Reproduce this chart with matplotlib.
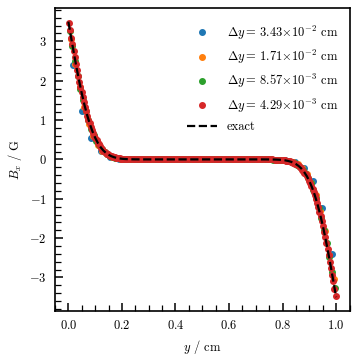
import numpy as np
import matplotlib
matplotlib.use("Agg")
import matplotlib.pyplot as plt

plt.rcParams['font.family'] = 'serif'
plt.rcParams['font.serif'] = ['cmr10', 'DejaVu Serif']
plt.rcParams['mathtext.fontset'] = 'cm'
plt.rcParams['axes.formatter.use_mathtext'] = True

# dy = 3.43e-2 cm
blue_y = [0.017, 0.0515, 0.086, 0.1205, 0.155, 0.1895, 0.224, 0.2585, 0.293, 0.3275,
          0.362, 0.3965, 0.431, 0.4655, 0.500, 0.5345, 0.569, 0.6035, 0.638, 0.6725,
          0.707, 0.7415, 0.776, 0.8105, 0.845, 0.8795, 0.914, 0.9485, 0.983]
blue_b = [2.39, 1.23, 0.545, 0.205, 0.065, 0.017, 0.004, 0.001, 0.0, 0.0,
          0.0, 0.0, 0.0, 0.0, 0.0, 0.0, 0.0, 0.0, 0.0, 0.0,
          0.0, -0.001, -0.004, -0.017, -0.075, -0.22, -0.55, -1.24, -2.40]

# dy = 1.71e-2 cm
orange_y = [0.0085, 0.0255, 0.0424, 0.0594, 0.0763, 0.0933, 0.1102, 0.1272, 0.1441, 0.1611,
            0.1780, 0.1950, 0.2119, 0.2289, 0.2458, 0.2628, 0.2797, 0.2967, 0.3136, 0.3306,
            0.3475, 0.3645, 0.3814, 0.3984, 0.4153, 0.4323, 0.4492, 0.4662, 0.4831, 0.5000,
            0.5170, 0.5339, 0.5509, 0.5678, 0.5848, 0.6017, 0.6187, 0.6356, 0.6526, 0.6695,
            0.6865, 0.7034, 0.7204, 0.7373, 0.7542, 0.7712, 0.7881, 0.8051, 0.8220, 0.8390,
            0.8559, 0.8729, 0.8898, 0.9068, 0.9237, 0.9407, 0.9576, 0.9746, 0.9915]
orange_b = [3.05, 2.43, 1.83, 1.32, 0.91, 0.60, 0.37, 0.22, 0.125, 0.068,
            0.035, 0.016, 0.007, 0.003, 0.001, 0.0, 0.0, 0.0, 0.0, 0.0,
            0.0, 0.0, 0.0, 0.0, 0.0, 0.0, 0.0, 0.0, 0.0, 0.0,
            0.0, 0.0, 0.0, 0.0, 0.0, 0.0, 0.0, 0.0, 0.0, 0.0,
            0.0, 0.0, 0.0, 0.0, -0.001, -0.003, -0.007, -0.016, -0.035, -0.068,
            -0.125, -0.22, -0.37, -0.60, -0.91, -1.32, -1.83, -2.43, -3.05]

# dy = 8.57e-3 cm
green_y = [0.005, 0.015, 0.025, 0.035, 0.045, 0.055, 0.065, 0.075, 0.085, 0.095,
           0.105, 0.115, 0.125, 0.135, 0.145, 0.155, 0.165, 0.175, 0.185, 0.195,
           0.205, 0.215, 0.225, 0.235, 0.245, 0.255, 0.265, 0.275, 0.285, 0.295,
           0.305, 0.315, 0.325, 0.335, 0.345, 0.355, 0.365, 0.375, 0.385, 0.395,
           0.405, 0.415, 0.425, 0.435, 0.445, 0.455, 0.465, 0.475, 0.485, 0.495,
           0.505, 0.515, 0.525, 0.535, 0.545, 0.555, 0.565, 0.575, 0.585, 0.595,
           0.605, 0.615, 0.625, 0.635, 0.645, 0.655, 0.665, 0.675, 0.685, 0.695,
           0.705, 0.715, 0.725, 0.735, 0.745, 0.755, 0.765, 0.775, 0.785, 0.795,
           0.805, 0.815, 0.825, 0.835, 0.845, 0.855, 0.865, 0.875, 0.885, 0.895,
           0.905, 0.915, 0.925, 0.935, 0.945, 0.955, 0.965, 0.975, 0.985, 0.995]
green_b = [3.26, 2.87, 2.49, 2.13, 1.80, 1.50, 1.23, 0.99, 0.785, 0.61,
           0.47, 0.355, 0.262, 0.19, 0.136, 0.095, 0.066, 0.045, 0.030, 0.019,
           0.012, 0.008, 0.005, 0.003, 0.002, 0.001, 0.0, 0.0, 0.0, 0.0,
           0.0, 0.0, 0.0, 0.0, 0.0, 0.0, 0.0, 0.0, 0.0, 0.0,
           0.0, 0.0, 0.0, 0.0, 0.0, 0.0, 0.0, 0.0, 0.0, 0.0,
           0.0, 0.0, 0.0, 0.0, 0.0, 0.0, 0.0, 0.0, 0.0, 0.0,
           0.0, 0.0, 0.0, 0.0, 0.0, 0.0, 0.0, 0.0, 0.0, 0.0,
           0.0, 0.0, 0.0, 0.0, -0.001, -0.002, -0.003, -0.005, -0.008, -0.012,
           -0.019, -0.030, -0.045, -0.066, -0.095, -0.136, -0.19, -0.262, -0.355, -0.47,
           -0.61, -0.785, -0.99, -1.23, -1.50, -1.80, -2.13, -2.49, -2.87, -3.26]

# dy = 4.29e-3 cm (dense near the walls, band in the flat middle)
red_y = [0.0020, 0.0063, 0.0106, 0.0149, 0.0192, 0.0235, 0.0278, 0.0321, 0.0364, 0.0407,
         0.0450, 0.0493, 0.0536, 0.0579, 0.0622, 0.0665, 0.0708, 0.0751, 0.0794, 0.0837,
         0.0880, 0.0923, 0.0966, 0.1009, 0.1052, 0.1095, 0.1138, 0.1181, 0.1224, 0.1267,
         0.1310, 0.1353, 0.1396, 0.1439, 0.1482, 0.1525, 0.1568, 0.1611, 0.1654, 0.1697,
         0.1740, 0.1783, 0.1826, 0.1869, 0.1912, 0.1955, 0.1998,
         0.21, 0.22, 0.23, 0.24, 0.25,
         0.26, 0.27, 0.28, 0.29, 0.30, 0.31, 0.32, 0.33, 0.34, 0.35,
         0.36, 0.37, 0.38, 0.39, 0.40, 0.41, 0.42, 0.43, 0.44, 0.45,
         0.46, 0.47, 0.48, 0.49, 0.50, 0.51, 0.52, 0.53, 0.54, 0.55,
         0.56, 0.57, 0.58, 0.59, 0.60, 0.61, 0.62, 0.63, 0.64, 0.65,
         0.66, 0.67, 0.68, 0.69, 0.70, 0.71, 0.72, 0.73, 0.74,
         0.75, 0.76, 0.77, 0.78, 0.79,
         0.8002, 0.8045, 0.8088, 0.8131, 0.8174, 0.8217, 0.8260, 0.8303, 0.8346, 0.8389,
         0.8432, 0.8475, 0.8518, 0.8561, 0.8604, 0.8647, 0.8690, 0.8733, 0.8776, 0.8819,
         0.8862, 0.8905, 0.8948, 0.8991, 0.9034, 0.9077, 0.9120, 0.9163, 0.9206, 0.9249,
         0.9292, 0.9335, 0.9378, 0.9421, 0.9464, 0.9507, 0.9550, 0.9593, 0.9636, 0.9679,
         0.9722, 0.9765, 0.9808, 0.9851, 0.9894, 0.9937, 0.9980]
red_b = [3.47, 3.28, 3.095, 2.925, 2.757, 2.594, 2.434, 2.278, 2.127, 1.978,
         1.840, 1.701, 1.573, 1.447, 1.329, 1.218, 1.110, 1.013, 0.916, 0.832,
         0.749, 0.674, 0.605, 0.539, 0.482, 0.426, 0.379, 0.334, 0.294, 0.258,
         0.225, 0.197, 0.170, 0.148, 0.128, 0.110, 0.095, 0.080, 0.069, 0.058,
         0.049, 0.041, 0.035, 0.029, 0.024, 0.020, 0.016,
         0.010, 0.0065, 0.004, 0.0025, 0.0014,
         0.0, 0.0, 0.0, 0.0, 0.0, 0.0, 0.0, 0.0, 0.0, 0.0,
         0.0, 0.0, 0.0, 0.0, 0.0, 0.0, 0.0, 0.0, 0.0, 0.0,
         0.0, 0.0, 0.0, 0.0, 0.0, 0.0, 0.0, 0.0, 0.0, 0.0,
         0.0, 0.0, 0.0, 0.0, 0.0, 0.0, 0.0, 0.0, 0.0, 0.0,
         0.0, 0.0, 0.0, 0.0, 0.0, 0.0, 0.0, 0.0, 0.0,
         -0.0014, -0.0025, -0.004, -0.0065, -0.010,
         -0.016, -0.020, -0.024, -0.029, -0.035, -0.041, -0.049, -0.058, -0.069, -0.080,
         -0.095, -0.110, -0.128, -0.148, -0.170, -0.197, -0.225, -0.258, -0.294, -0.334,
         -0.379, -0.426, -0.482, -0.539, -0.605, -0.674, -0.749, -0.832, -0.916, -1.013,
         -1.110, -1.218, -1.329, -1.447, -1.573, -1.701, -1.840, -1.978, -2.127, -2.278,
         -2.434, -2.594, -2.757, -2.925, -3.095, -3.28, -3.47]

# exact solution
exact_y = [0.00, 0.01, 0.02, 0.03, 0.04, 0.05, 0.06, 0.07, 0.08, 0.09,
           0.10, 0.11, 0.12, 0.13, 0.14, 0.15, 0.16, 0.17, 0.18, 0.19,
           0.20, 0.21, 0.22, 0.23, 0.24, 0.25, 0.26, 0.27, 0.28, 0.29, 0.30,
           0.40, 0.50, 0.60,
           0.70, 0.71, 0.72, 0.73, 0.74, 0.75, 0.76, 0.77, 0.78, 0.79,
           0.80, 0.81, 0.82, 0.83, 0.84, 0.85, 0.86, 0.87, 0.88, 0.89,
           0.90, 0.91, 0.92, 0.93, 0.94, 0.95, 0.96, 0.97, 0.98, 0.99, 1.00]
exact_b = [3.500, 3.106, 2.721, 2.350, 2.001, 1.678, 1.386, 1.128, 0.903, 0.711,
           0.551, 0.419, 0.314, 0.231, 0.167, 0.119, 0.083, 0.057, 0.038, 0.025,
           0.016, 0.010, 0.0065, 0.004, 0.0025, 0.0014, 0.0008, 0.0004, 0.0002, 0.0001, 0.0,
           0.0, 0.0, 0.0,
           0.0, -0.0001, -0.0002, -0.0004, -0.0008, -0.0014, -0.0025, -0.004, -0.0065, -0.010,
           -0.016, -0.025, -0.038, -0.057, -0.083, -0.119, -0.167, -0.231, -0.314, -0.419,
           -0.551, -0.711, -0.903, -1.128, -1.386, -1.678, -2.001, -2.350, -2.721, -3.106, -3.500]

labels = [r'$\Delta y{=}\,3.43{\times}10^{-2}$ cm',
          r'$\Delta y{=}\,1.71{\times}10^{-2}$ cm',
          r'$\Delta y{=}\,8.57{\times}10^{-3}$ cm',
          r'$\Delta y{=}\,4.29{\times}10^{-3}$ cm']

fig = plt.figure(figsize=(3.57, 3.57), dpi=100)
ax = fig.add_axes([0.154, 0.129, 0.825, 0.849])

ms = 4.0
ax.plot(blue_y, blue_b, 'o', color='C0', ms=ms, label=labels[0])
ax.plot(orange_y, orange_b, 'o', color='C1', ms=ms, label=labels[1])
ax.plot(green_y, green_b, 'o', color='C2', ms=ms, label=labels[2])
ax.plot(red_y, red_b, 'o', color='C3', ms=ms, label=labels[3])
ax.plot(exact_y, exact_b, '--', color='k', lw=1.6, label='exact')

ax.set_xlabel(r'$y$ / cm', fontsize=9)
ax.set_ylabel(r'$B_x$ / G', fontsize=9)

ax.xaxis.set_minor_locator(plt.MultipleLocator(0.05))
ax.yaxis.set_minor_locator(plt.MultipleLocator(0.2))
ax.tick_params(which='both', direction='in', labelsize=9, pad=6)
ax.tick_params(which='major', length=6, width=1.1)
ax.tick_params(which='minor', length=4, width=0.9)
for s in ax.spines.values():
    s.set_linewidth(1.2)

ax.legend(loc='upper right', bbox_to_anchor=(1.0, 0.985), frameon=False,
          fontsize=9, numpoints=1, handlelength=2.4, labelspacing=0.5)

fig.savefig('out.png', dpi=100)
